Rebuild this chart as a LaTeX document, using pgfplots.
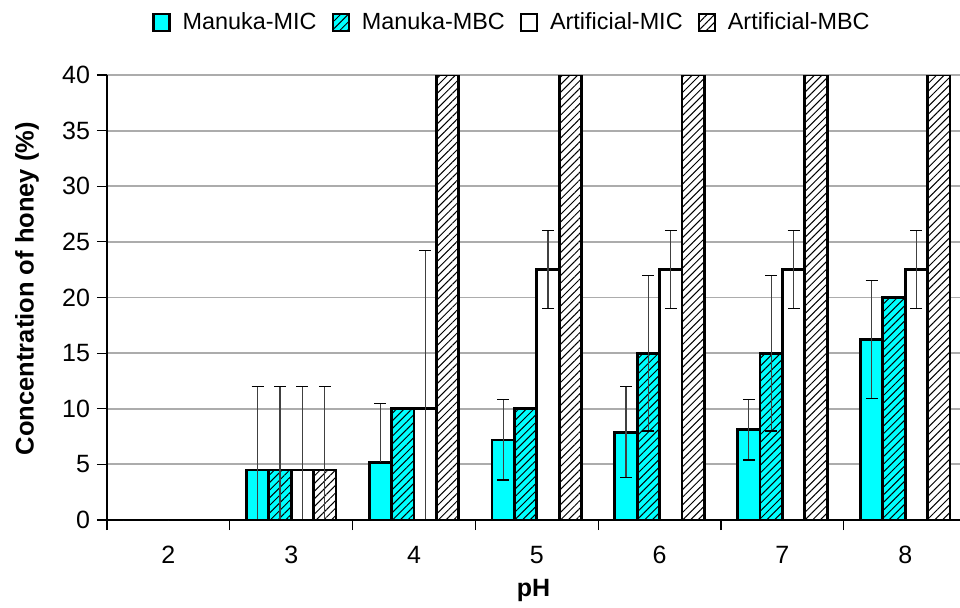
\documentclass[border=0pt]{standalone}
\usepackage{fontspec}
\setmainfont{Liberation Sans}
\usepackage{pgfplots}
\usepackage{pgfplotstable}
\pgfplotsset{compat=1.18}
\usetikzlibrary{patterns.meta}

\pgfplotstableread{
x mic micp micm mbc mbcp mbcm amic amicp amicm ambc ambcp ambcm
0 0 0 0 0 0 0 0 0 0 0 0 0
1 4.5 7.5 4.5 4.5 7.5 4.5 4.5 7.5 4.5 4.5 7.5 4.5
2 5.2 5.3 0 10 0 0 10 14.2 10 40 0 0
3 7.2 3.6 3.6 10 0 0 22.5 3.5 3.5 40 0 0
4 7.9 4.1 4.1 15 7 7 22.5 3.5 3.5 40 0 0
5 8.1 2.7 2.7 15 7 7 22.5 3.5 3.5 40 0 0
6 16.25 5.25 5.3 20 0 0 22.5 3.5 3.5 40 0 0
}\data

\definecolor{cyanbar}{RGB}{0,255,255}
\tikzset{hatch/.style={postaction={pattern={Lines[angle=45,distance=2.7pt,line width=0.5pt]}}}}
\pgfplotsset{errb/.style={
  error bars/y dir=both, error bars/y explicit,
  error bars/error bar style={black!75, line width=0.6pt},
  error bars/error mark options={rotate=90, mark size=3pt, black, line width=0.6pt}}}

\begin{document}
\begin{tikzpicture}
\useasboundingbox (-53.5pt,-43.5pt) rectangle (426.5pt,260pt);
\begin{axis}[
  at={(0,0)}, anchor=south west,
  scale only axis, width=426.5pt, height=222.5pt,
  ybar=0pt, bar width=0.1824,
  xmin=-0.5, xmax=6.446, ymin=0, ymax=40,
  axis x line=bottom, axis y line=left,
  axis line style={-, black, line width=0.8pt},
  xtick={0,...,6}, xticklabels={2,3,4,5,6,7,8},
  minor xtick={-0.5,0.5,...,6.5},
  ytick={0,5,...,40},
  tick align=outside,
  major tick length=5pt, minor tick length=5pt,
  x tick style={draw=none},
  minor x tick style={draw=black, line width=0.6pt},
  y tick style={black, line width=0.6pt},
  ymajorgrids, major grid style={gray!65, line width=0.9pt},
  tick label style={font=\fontsize{12.5}{14}\selectfont},
  /pgf/number format/assume math mode=true,
  xticklabel style={yshift=-4.5pt},
  every axis y label/.style={at={(axis description cs:-0.0938,0.52)}, rotate=90, anchor=center},
  every axis x label/.style={at={(axis description cs:0.5,-0.158)}, anchor=center},
  ylabel={\fontsize{12.75}{15}\selectfont\bfseries Concentration of honey (\%)},
  xlabel={\fontsize{12.5}{15}\selectfont\bfseries pH},
  legend style={at={(axis description cs:0.476,1.117)}, anchor=center, draw=none, fill=none,
    legend columns=4, font=\fontsize{11.7}{13}\selectfont,
    /tikz/every odd column/.append style={column sep=4pt},
    /tikz/every even column/.append style={column sep=5.5pt}},
  legend image code/.code={\draw[#1, line width=1.1pt] (0pt,-4pt) rectangle (8pt,4.5pt);},
]
\addplot[draw=black, line width=1.4pt, fill=cyanbar, errb] table[x=x, y=mic, y error plus=micp, y error minus=micm]{\data};
\addplot[draw=black, line width=1.4pt, fill=cyanbar, hatch, errb] table[x=x, y=mbc, y error plus=mbcp, y error minus=mbcm]{\data};
\addplot[draw=black, line width=1.4pt, fill=white, errb] table[x=x, y=amic, y error plus=amicp, y error minus=amicm]{\data};
\addplot[draw=black, line width=1.4pt, fill=white, hatch, errb] table[x=x, y=ambc, y error plus=ambcp, y error minus=ambcm]{\data};
\legend{Manuka-MIC, Manuka-MBC, Artificial-MIC, Artificial-MBC}
\end{axis}
\end{tikzpicture}
\end{document}
